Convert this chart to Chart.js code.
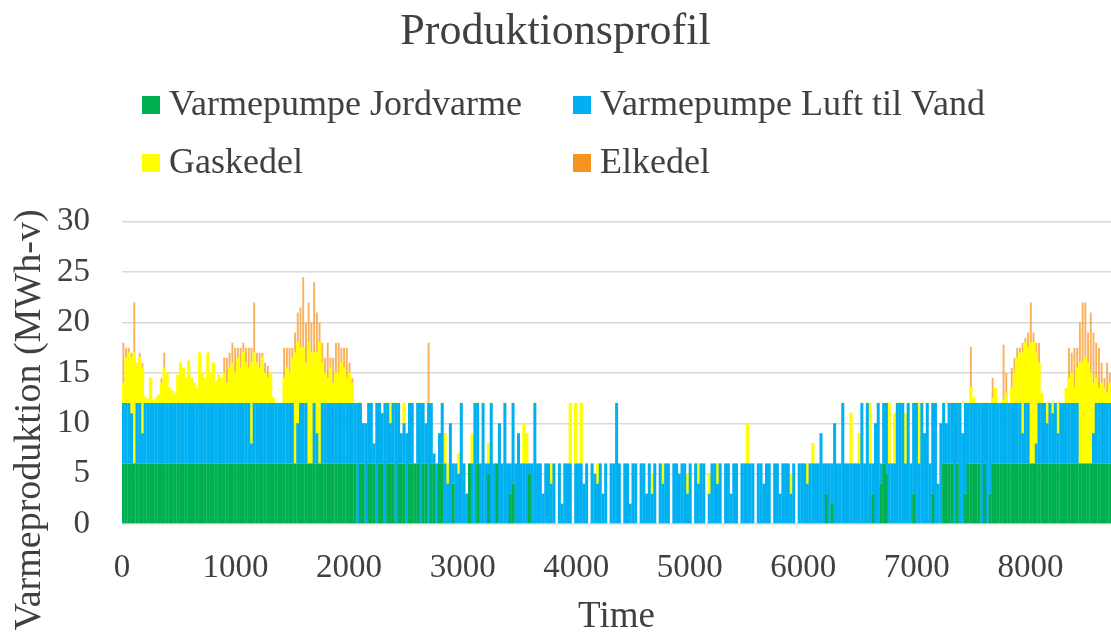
<!DOCTYPE html>
<html>
<head>
<meta charset="utf-8">
<script src="https://cdn.jsdelivr.net/npm/chart.js@4.4.1/dist/chart.umd.min.js"></script>
<style>
html,body{margin:0;padding:0;background:#fff;}
#wrap{width:1111px;height:632px;position:relative;overflow:hidden;}
</style>
</head>
<body>
<div id="wrap"><canvas id="c" width="1111" height="632"></canvas></div>
<script>
// ---------- DATA (one value per day of the year, MWh-v) ----------
const seriesNames = ["Varmepumpe Jordvarme", "Varmepumpe Luft til Vand", "Gaskedel", "Elkedel"];
const seriesColors = ["#00b050", "#00b0f0", "#ffff00", "#f7941d"];
const xTickLabels = [0, 1000, 2000, 3000, 4000, 5000, 6000, 7000, 8000];
const yTickLabels = [0, 5, 10, 15, 20, 25, 30];
const yAxisTitle = "Varmeproduktion (MWh-v)";
const xAxisTitle = "Time";

const jordvarme = [
 6,6,6,6,6,6,6,6,6,6, 6,6,6,6,6,6,6,6,6,6, 6,6,6,6,6,6,6,6,6,6,
 6,6,6,6,6,6,6,6,6,6, 6,6,6,6,6,6,6,6,6,6, 6,6,6,6,6,6,6,6,6,6,
 6,6,6,6,6,6,6,6,6,6, 6,6,6,6,6,6,6,6,6,6, 6,6,6,6,6,6,0,6,6,0,
 6,6,6,0,6,6,0,6,6,6, 0,6,6,6,0,6,6,6,6,0, 6,6,0,6,6,0,6,6,0,0,
 0,4,0,0,0,0,0,6,0,0, 6,0,0,0,5,0,0,6,0,0, 0,0,3,4,0,0,0,0,0,5,
 0,0,0,0,0,0,0,0,0,0, 0,0,0,0,0,0,0,0,0,0, 0,0,0,0,0,0,0,0,0,0,
 0,0,0,0,0,0,0,0,0,0, 0,0,0,0,0,0,0,0,0,0, 0,0,0,0,0,0,0,0,0,0,
 0,0,0,0,0,0,0,0,0,0, 0,0,0,0,0,0,0,0,0,0, 0,0,0,0,0,0,0,0,0,0,
 0,0,0,0,0,0,0,0,0,0, 0,0,0,0,0,0,0,0,3,0, 2,0,0,0,0,0,0,0,0,0,
 0,0,0,0,0,3,0,0,4,6, 5,0,0,0,0,0,0,0,0,0, 3,0,0,0,0,0,0,3,0,0,
 0,6,6,6,6,0,6,0,0,3, 6,6,6,6,6,0,6,0,3,6, 6,6,6,6,6,6,6,6,6,6,
 6,6,6,6,6,6,6,6,6,6, 6,6,6,6,6,6,6,6,6,6, 6,6,6,6,6,6,6,6,6,6,
 6,6,6,6,6
];

const luftTilVand = [
 6,6,6,5,0,6,6,3,6,6, 6,6,6,6,6,6,6,6,6,6, 6,6,6,6,6,6,6,6,6,6,
 6,6,6,6,6,6,6,6,6,6, 6,6,6,6,6,6,6,2,6,6, 6,6,6,6,6,6,6,6,6,6,
 6,6,6,0,4,6,6,6,0,0, 6,3,0,6,6,6,6,6,6,6, 6,6,6,6,6,6,12,6,4,10,
 6,6,2,12,6,5,12,6,4,6, 12,6,3,4,9,6,6,0,6,12, 6,4,12,6,1,6,3,6,6,4,
 10,2,6,5,12,6,3,0,6,12, 6,6,12,6,1,12,6,0,10,6, 12,6,3,8,6,9,6,6,6,1,
 6,12,6,6,3,6,6,4,6,0, 6,2,6,6,6,0,6,6,6,4, 6,0,6,5,4,6,3,6,0,6,
 6,12,6,0,6,6,2,6,6,0, 6,6,3,6,3,6,0,6,4,6, 6,0,6,6,5,6,6,3,6,0,
 6,4,6,6,0,3,6,6,4,6, 0,6,6,3,6,6,0,6,6,6, 6,6,0,6,6,4,6,6,0,6,
 6,3,6,6,6,3,6,0,6,6, 6,4,6,6,6,6,9,6,3,6, 4,10,6,6,12,6,6,6,6,6,
 6,12,6,12,6,3,10,12,2,6, 7,6,6,6,12,12,12,6,12,6, 9,12,6,12,9,12,6,9,12,4,
 10,6,4,6,6,12,6,12,9,9, 6,6,6,6,6,12,6,12,9,6, 6,6,6,6,6,6,6,6,6,6,
 3,6,6,0,0,2,6,6,6,4, 6,5,6,3,6,6,6,6,6,6, 6,0,0,0,0,0,3,6,6,6,
 6,6,6,6,6
];

const gaskedel = [
 2,4.5,5,5.5,11,4,4.5,6.5,0.6,0.4, 2.5,0.3,0.5,0.8,2,3.5,3,1.5,1.2,1, 2.8,4,3.5,2.5,4.2,2.5,2,1.5,5,3,
 2.5,5,3,4,2.2,2.8,2.5,3,2,3.5, 4,3,4.5,3.5,5,4,3.5,8,5,4, 3.5,4.5,3,2.5,3,0.5,0,0,0,2.5,
 3.5,3,4.5,11,8,5.5,5.5,4,12,11, 5,8,12,4,3,2.5,3.5,2,3,3, 4,3.5,2.5,3,2,0,0,0,0,0,
 0,0,0,0,0,0,0,0,2,0, 0,0,0,2,0,0,0,0,0,0, 0,0,0,0,0,0,0,0,3,2,
 0,0,0,2,0,0,0,0,3,0, 0,0,0,0,2,0,0,0,0,0, 0,0,0,0,0,0,0,4,3,0,
 0,0,0,0,0,0,0,2,0,0, 0,0,0,0,6,0,6,0,6,0, 0,0,0,0,2,0,0,0,0,0,
 0,0,0,0,0,0,0,0,0,0, 0,0,0,0,2,0,0,0,2,0, 0,0,0,0,0,0,0,2,0,0,
 0,2,0,0,0,2,0,0,2,0, 0,0,0,0,0,0,0,0,0,4, 0,0,0,0,0,0,0,0,0,0,
 0,0,0,0,0,2,0,0,0,0, 0,2,0,2,0,0,0,0,0,0, 0,0,0,0,0,0,0,5,0,0,
 3,0,0,0,6,0,0,0,0,0, 0,6,0,5,0,0,0,5,0,0, 0,0,6,0,0,0,0,0,0,0,
 0,0,0,0,0,0,0,0,0,0, 0,1.6,0.5,0,0,0,0,0,0,0.5, 1.5,0,0,0.3,1,0,1.5,3,4.5,5,
 8,6,5.5,12,12,9,4,1,0,2, 0,1,0,3,0,0,1.5,2.5,3,1.5, 3.5,10,10,10.5,10,9,5,2.5,1.5,2,
 1.5,1,2,1.5,1
];

const elkedel = [
 4,1,0.5,0.5,5,0,0.5,0.5,0,0, 0,0,0,0,0.5,1.5,0,0,0,0, 0,0,0,0,0,0,0,0,0,0,
 0,0,0,0,0,0,0,1.5,2.5,1.5, 2,2.5,1,2,1,1.5,2,1.5,5,1, 1.5,0.5,1,1.2,0,0,0,0,0,3,
 2,2.5,1,2,3,4,7,4,4,3, 7,4,2,2,1.5,3.5,1,2.5,3,3, 1.5,2,3,1,0.5,0,0,0,0,0,
 0,0,0,0,0,0,0,0,0,0, 0,0,0,0,0,0,0,0,0,0, 0,0,6,0,0,0,0,0,0,0,
 0,0,0,0,0,0,0,0,0,0, 0,0,0,0,0,0,0,0,0,0, 0,0,0,0,0,0,0,0,0,0,
 0,0,0,0,0,0,0,0,0,0, 0,0,0,0,0,0,0,0,0,0, 0,0,0,0,0,0,0,0,0,0,
 0,0,0,0,0,0,0,0,0,0, 0,0,0,0,0,0,0,0,0,0, 0,0,0,0,0,0,0,0,0,0,
 0,0,0,0,0,0,0,0,0,0, 0,0,0,0,0,0,0,0,0,0, 0,0,0,0,0,0,0,0,0,0,
 0,0,0,0,0,0,0,0,0,0, 0,0,0,0,0,0,0,0,0,0, 0,0,0,0,0,0,0,0,0,0,
 0,0,0,0,0,0,0,0,0,0, 0,0,0,0,0,0,0,0,0,0, 0,0,0,0,0,0,0,0,0,0,
 0,0,0,0,0,0,0,0,0,0, 0,4,0,0,0,0,0,0,0,2, 0,0,0,5.5,2,0,2,1.5,1,0.5,
 1,0.5,1.5,4,1,1,2,0,0,0, 0,0,0,0,0,0,0,3,2,4, 2,4,6,5.5,3,6,5,3.5,4,2,
 1,3,1,0.5,1
];

// categories: the hour at the middle of each day of the year
const dayHours = jordvarme.map((_, i) => i * 24 + 12);

// ---------- CHART ----------
const FONT = '"Liberation Serif", "Times New Roman", serif';
const TXT = '#404040';
Chart.defaults.font.family = FONT;
Chart.defaults.color = TXT;

const legendPlugin = {
  id: 'gridLegend',
  afterDraw(chart) {
    const ctx = chart.ctx;
    const cols = [142, 573];
    const rows = [115, 173];
    ctx.save();
    ctx.font = '36px ' + FONT;
    ctx.textBaseline = 'alphabetic';
    ctx.textAlign = 'left';
    chart.data.datasets.forEach((ds, i) => {
      const x = cols[i % 2];
      const base = rows[Math.floor(i / 2)];
      ctx.fillStyle = ds.legendColor;
      ctx.fillRect(x, base - 19, 18, 18);
      ctx.fillStyle = TXT;
      ctx.fillText(ds.label, x + 27, base);
    });
    // vertical axis title (placed as in the reference, a little below the plot centre)
    ctx.translate(30, 420);
    ctx.rotate(-Math.PI / 2);
    ctx.font = '38px ' + FONT;
    ctx.textAlign = 'center';
    ctx.textBaseline = 'middle';
    ctx.fillText(yAxisTitle, 0, 0);
    ctx.restore();
  }
};

const datasets = [
  { label: seriesNames[0], data: jordvarme, backgroundColor: seriesColors[0], legendColor: seriesColors[0], barPercentage: 1.1 },
  { label: seriesNames[1], data: luftTilVand, backgroundColor: seriesColors[1], legendColor: seriesColors[1], barPercentage: 1.1 },
  { label: seriesNames[2], data: gaskedel, backgroundColor: seriesColors[2], legendColor: seriesColors[2], barPercentage: 1.0 },
  { label: seriesNames[3], data: elkedel, backgroundColor: 'rgba(247,148,29,0.72)', legendColor: seriesColors[3], barPercentage: 0.7 }
];

new Chart(document.getElementById('c'), {
  type: 'bar',
  data: { labels: dayHours, datasets: datasets },
  options: {
    responsive: false,
    animation: false,
    events: [],
    datasets: { bar: { categoryPercentage: 1, borderWidth: 0 } },
    layout: { padding: { left: 0, right: 0, top: 0, bottom: 0 } },
    plugins: {
      legend: { display: false },
      tooltip: { enabled: false },
      title: {
        display: true,
        text: 'Produktionsprofil',
        color: TXT,
        font: { family: FONT, size: 44, weight: 'normal' },
        padding: { top: 6, bottom: 163 }
      }
    },
    scales: {
      x: {
        type: 'linear',
        min: 0,
        max: 8710,
        stacked: true,
        offset: false,
        grid: { display: false, drawTicks: false },
        border: { display: false },
        afterBuildTicks: s => { s.ticks = xTickLabels.map(v => ({ value: v })); },
        ticks: {
          autoSkip: false, maxRotation: 0, padding: 25, color: TXT,
          font: { family: FONT, size: 33 },
          callback: v => String(v)
        },
        title: {
          display: true, text: xAxisTitle, color: TXT,
          font: { family: FONT, size: 37, lineHeight: 1 },
          padding: { top: 0, bottom: -4 }
        },
        afterFit: s => { s.height = 108; }
      },
      y: {
        stacked: true,
        min: 0,
        max: 30,
        afterBuildTicks: s => { s.ticks = yTickLabels.map(v => ({ value: v })); },
        grid: { color: '#d9d9d9', lineWidth: 1.5, drawTicks: false },
        border: { display: false },
        ticks: {
          padding: 32, color: TXT,
          font: { family: FONT, size: 33 }
        },
        title: { display: false },
        afterFit: s => { s.width = 122; }
      }
    }
  },
  plugins: [legendPlugin]
});
</script>
</body>
</html>
